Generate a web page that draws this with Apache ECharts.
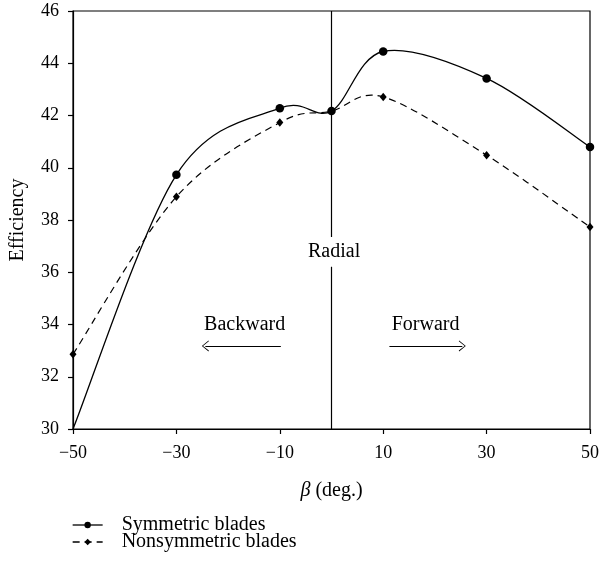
<!DOCTYPE html>
<html>
<head>
<meta charset="utf-8">
<script src="https://cdn.jsdelivr.net/npm/echarts@6/dist/echarts.min.js"></script>
<style>
  html, body { margin: 0; padding: 0; background: #fff; }
  #chart { width: 602px; height: 565px; }
</style>
</head>
<body>
<div id="chart"></div>
<script>
// Blade angle (deg.) and efficiency for the two blade shapes
const beta = [-50, -30, -10, 0, 10, 30, 50];
const symmetricEff = [30.0, 39.73, 42.28, 42.17, 44.45, 43.42, 40.79];
const nonsymmetricEff = [32.86, 38.89, 41.73, 42.17, 42.71, 40.48, 37.73];
const xTicks = [-50, -30, -10, 10, 30, 50];
const yMin = 30, yMax = 46, yStep = 2;

const FONT = '"Liberation Serif", "DejaVu Serif", serif';
const INK = '#000';
const minus = v => String(v).replace('-', '\u2212');

// open chevron arrow head, pointing "up" so markLine rotates it along the line
const chevron = 'path://M0,20 L10,0 L20,20 L18.4,21 L10,3.4 L1.6,21 Z';

// Cardinal (Catmull-Rom, tension 1/6) spline through the projected points
function splinePath(api, xs, ys) {
  const p = xs.map((x, i) => api.coord([x, ys[i]]));
  const n = p.length;
  let d = 'M' + p[0][0] + ',' + p[0][1];
  for (let i = 0; i < n - 1; i++) {
    const a = p[Math.max(i - 1, 0)], b = p[i], c = p[i + 1], e = p[Math.min(i + 2, n - 1)];
    const c1x = b[0] + (c[0] - a[0]) / 6, c1y = b[1] + (c[1] - a[1]) / 6;
    const c2x = c[0] - (e[0] - b[0]) / 6, c2y = c[1] - (e[1] - b[1]) / 6;
    d += ' C' + c1x + ',' + c1y + ' ' + c2x + ',' + c2y + ' ' + c[0] + ',' + c[1];
  }
  return d;
}

function curveSeries(ys, dash, width) {
  return {
    type: 'custom', silent: true, clip: false, z: 1,
    data: beta.map((b, i) => [b, ys[i]]),
    encode: { x: 0, y: 1 },
    renderItem: (params, api) => {
      if (params.dataIndex !== 0) return null;
      return {
        type: 'path',
        shape: { pathData: splinePath(api, beta, ys) },
        style: { fill: 'none', stroke: INK, lineWidth: width, lineDash: dash }
      };
    }
  };
}

const chart = echarts.init(document.getElementById('chart'));

const symData = beta.map((b, i) => i === 0
  ? { value: [b, symmetricEff[i]], symbol: 'none' }
  : [b, symmetricEff[i]]);
const nonData = beta.map((b, i) => [b, nonsymmetricEff[i]]);

chart.setOption({
  animation: false,
  textStyle: { fontFamily: FONT, color: INK },
  grid: {
    left: 72, right: 11, top: 11, bottom: 136,
    show: true, borderColor: INK, borderWidth: 1.2, backgroundColor: 'transparent'
  },
  xAxis: {
    type: 'value', min: -50, max: 50,
    axisLine: { onZero: false, lineStyle: { color: INK, width: 1.2 } },
    axisTick: { show: true, length: 5, inside: false, customValues: xTicks, lineStyle: { color: INK, width: 1.2 } },
    axisLabel: { customValues: xTicks, formatter: minus, fontFamily: FONT, fontSize: 18, color: INK, margin: 15 },
    splitLine: { show: false },
    name: '{b|\u03B2} (deg.)',
    nameLocation: 'middle', nameGap: 52,
    nameTextStyle: {
      fontFamily: FONT, fontSize: 20, color: INK,
      rich: { b: { fontFamily: FONT, fontStyle: 'italic', fontSize: 20, color: INK } }
    }
  },
  yAxis: {
    type: 'value', min: yMin, max: yMax, interval: yStep,
    axisLine: { show: true, onZero: false, lineStyle: { color: INK, width: 1.2 } },
    axisTick: { show: true, length: 5, inside: false, lineStyle: { color: INK, width: 1.2 } },
    axisLabel: { fontFamily: FONT, fontSize: 18, color: INK, margin: 14 },
    splitLine: { show: false },
    name: 'Efficiency', nameLocation: 'middle', nameGap: 45,
    nameTextStyle: { fontFamily: FONT, fontSize: 20, color: INK }
  },
  legend: {
    orient: 'vertical', left: 72, top: 515, padding: 0,
    itemWidth: 30, itemHeight: 8, itemGap: -3,
    lineStyle: { opacity: 1, width: 1.3 },
    textStyle: { fontFamily: FONT, fontSize: 20, color: INK, padding: [0, 0, 0, 14] },
    data: ['Symmetric blades', 'Nonsymmetric blades']
  },
  series: [
    curveSeries(symmetricEff, null, 1.3),
    curveSeries(nonsymmetricEff, [7, 5], 1.2),
    {
      name: 'Symmetric blades', type: 'line',
      data: symData,
      symbol: 'circle', symbolSize: 8.5,
      itemStyle: { color: INK },
      lineStyle: { color: INK, width: 1.3, type: 'solid', opacity: 0 },
      z: 3,
      markLine: {
        silent: true, symbol: 'none', animation: false,
        lineStyle: { color: INK, width: 1.2, type: 'solid', opacity: 1 },
        label: { show: false },
        data: [
          [{ coord: [0, 46] }, { coord: [0, 37.35] }],
          [{ coord: [0, 36.21] }, { coord: [0, 30] }],
          [{ coord: [-9.8, 33.18], symbol: 'none' }, { coord: [-24.4, 33.18], symbol: chevron, symbolSize: [11, 7] }],
          [{ coord: [11.2, 33.18], symbol: 'none' }, { coord: [25.3, 33.18], symbol: chevron, symbolSize: [11, 7] }]
        ]
      },
      markPoint: {
        silent: true, symbol: 'circle', symbolSize: 0, animation: false,
        label: { show: true, position: 'inside', fontFamily: FONT, fontSize: 20, color: INK, formatter: p => p.name },
        data: [
          { name: 'Radial', coord: [0.5, 36.8] },
          { name: 'Backward', coord: [-16.8, 34.0] },
          { name: 'Forward', coord: [18.2, 34.0] }
        ]
      }
    },
    {
      name: 'Nonsymmetric blades', type: 'line',
      data: nonData,
      symbol: 'diamond', symbolSize: [7, 8.5],
      itemStyle: { color: INK },
      lineStyle: { color: INK, width: 1.2, type: [7, 5], opacity: 0 },
      z: 2
    }
  ]
});
</script>
</body>
</html>
